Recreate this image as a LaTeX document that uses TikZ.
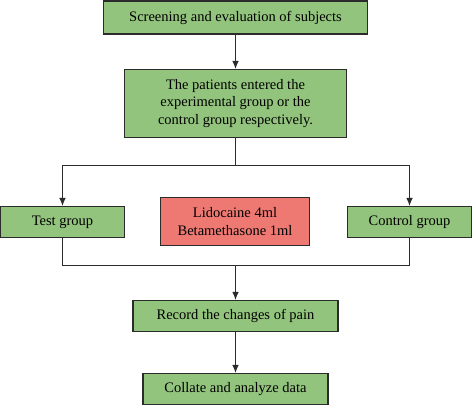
\documentclass[tikz,border=0pt]{standalone}
\usepackage{fontspec}
\setmainfont{Liberation Serif}
\usetikzlibrary{calc,arrows.meta}

\definecolor{stagegreen}{HTML}{93C47D}
\definecolor{drugred}{HTML}{EE7872}
\definecolor{edgegray}{HTML}{2B2B2B}

\tikzset{
  stage/.style={draw=edgegray, line width=1.1pt, fill=stagegreen, inner sep=2pt,
    align=center, font=\fontsize{14.5}{17.5}\selectfont},
  drug/.style={stage, fill=drugred},
  link/.style={draw=edgegray, line width=0.9pt},
  tip/.style={-{Latex[length=8pt,width=6.5pt]}}
}

\begin{document}
\begin{tikzpicture}[x=1pt,y=-1pt]
    \useasboundingbox (0,0) rectangle (473,405);

    \node[stage, minimum width=264pt, minimum height=33pt] at (235.5,17.5) (screen) {Screening and evaluation of subjects};
    \node[stage, minimum width=222pt, minimum height=68pt] at (235.5,103.5) (assign) {The patients entered the\\experimental group or the\\control group respectively.};
    \node[stage, minimum width=124pt, minimum height=31pt] at (62.5,222) (test) {Test group};
    \node[drug, minimum width=149pt, minimum height=48pt] at (235,221.5) (drug) {Lidocaine 4ml\\Betamethasone 1ml};
    \node[stage, minimum width=124pt, minimum height=31pt] at (409.5,222) (control) {Control group};
    \node[stage, minimum width=205pt, minimum height=31pt] at (235.5,316) (record) {Record the changes of pain};
    \node[stage, minimum width=185pt, minimum height=31pt] at (235.5,389) (collate) {Collate and analyze data};

    \coordinate (split) at (235.5,165);
    \coordinate (merge) at (235.5,265);

    \draw[link,tip] (screen) to (assign);
    \draw[link] (assign) to (split);
    \draw[link,tip] (split) -| (test);
    \draw[link,tip] (split) -| (control);
    \draw[link] (test) |- (merge);
    \draw[link] (control) |- (merge);
    \draw[link,tip] (merge) to (record);
    \draw[link,tip] (record) to (collate);
  \end{tikzpicture}
\end{document}
